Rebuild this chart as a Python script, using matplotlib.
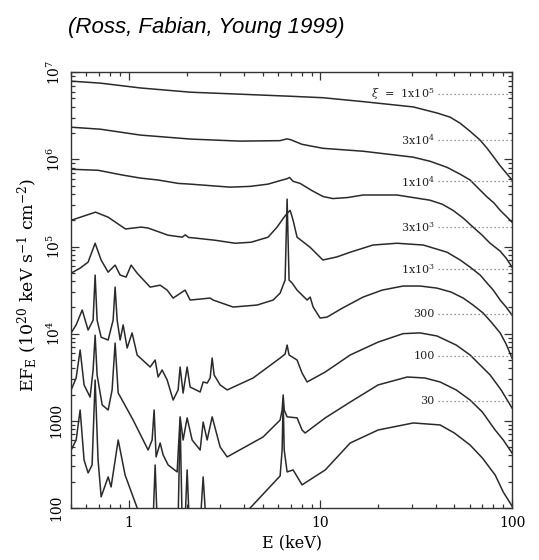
import numpy as np
import matplotlib.pyplot as plt
from matplotlib.ticker import FixedLocator, FixedFormatter, NullFormatter, LogLocator

plt.rcParams['font.family'] = ['DejaVu Serif']
plt.rcParams['mathtext.fontset'] = 'dejavuserif'

# reflection spectra, E in keV, EF_E in 1e20 keV s^-1 cm^-2
E_1e5 = [0.5, 0.71, 1.15, 2.1, 3.8, 7.0, 10.3, 16.7, 30.5, 40.7, 47.5, 53.6, 60.4, 68.2, 74.1, 79.8, 86.7,
         93.1, 100]
F_1e5 = [7.9e6, 7.5e6, 6.6e6, 5.9e6, 5.6e6, 5.3e6, 5.1e6, 4.6e6, 4.0e6, 3.4e6, 3.05e6, 2.6e6, 2.1e6,
         1.66e6, 1.34e6, 1.08e6, 8.45e5, 7.0e5, 5.8e5]

E_3e4 = [0.5, 0.71, 1.15, 2.1, 3.8, 6.15, 6.7, 7.0, 8.0, 10.3, 16.7, 30.5, 37.4, 45.8, 53.6, 60.4, 66.5,
         74.1, 80.6, 86.7, 93.1, 100]
F_3e4 = [2.34e6, 2.22e6, 1.9e6, 1.71e6, 1.62e6, 1.64e6, 1.72e6, 1.68e6, 1.49e6, 1.34e6, 1.24e6, 1.06e6,
         9.5e5, 8.1e5, 6.76e5, 5.8e5, 4.68e5, 3.7e5, 3.15e5, 2.6e5, 2.23e5, 1.9e5]

E_1e4 = [0.5, 0.69, 0.93, 1.15, 1.42, 1.81, 2.09, 3.38, 4.3, 5.33, 6.15, 6.7, 6.9, 7.2, 7.83, 9.0, 10.3,
         11.6, 13.9, 16.7, 25.1, 37.3, 43.2, 49.2, 55.6, 62.6, 69.8, 76.8, 86.7, 93.1, 100]
F_1e4 = [7.7e5, 7.5e5, 6.6e5, 6.1e5, 5.8e5, 5.3e5, 5.2e5, 4.8e5, 4.9e5, 5.2e5, 5.7e5, 6.0e5, 6.2e5, 5.6e5,
         5.3e5, 4.4e5, 3.75e5, 3.55e5, 3.65e5, 3.9e5, 3.9e5, 3.4e5, 3.06e5, 2.6e5, 2.12e5, 1.67e5, 1.35e5,
         1.09e5, 8.85e4, 7.36e4, 5.8e4]

E_3e3 = [0.5, 0.67, 0.78, 0.96, 1.16, 1.26, 1.6, 1.9, 1.97, 2.05, 2.22, 2.82, 3.59, 4.35, 5.33, 5.94, 6.39,
         6.7, 6.95, 7.2, 7.55, 8.83, 10.3, 12.2, 14.3, 18.8, 25.1, 34.4, 45.8, 53.6, 60.4, 68.2, 74.1, 79.8,
         86.7, 93.1, 100]
F_3e3 = [2.0e5, 2.48e5, 2.17e5, 1.59e5, 1.67e5, 1.63e5, 1.35e5, 1.28e5, 1.36e5, 1.27e5, 1.25e5, 1.18e5,
         1.09e5, 1.12e5, 1.28e5, 1.67e5, 2.1e5, 2.4e5, 2.6e5, 2.0e5, 1.28e5, 9.8e4, 7.0e4, 7.6e4, 8.6e4,
         1.04e5, 1.09e5, 1.04e5, 8.6e4, 7.0e4, 5.8e4, 4.7e4, 3.8e4, 3.16e4, 2.43e4, 2.02e4, 1.63e4]

E_1e3 = [0.5, 0.557, 0.613, 0.667, 0.717, 0.78, 0.848, 0.901, 0.968, 1.028, 1.105, 1.292, 1.457, 1.585,
         1.703, 1.967, 2.089, 2.657, 2.754, 3.503, 4.674, 5.664, 6.16, 6.54, 6.70, 6.86, 7.12, 7.55, 8.52,
         8.84, 9.16, 9.96, 10.84, 13.0, 16.7, 21.0, 27.0, 33.1, 40.6, 48.1, 55.6, 62.6, 70.7, 77.8, 86.7,
         93.1, 100]
F_1e3 = [4.95e4, 5.65e4, 6.62e4, 1.09e5, 6.98e4, 5.08e4, 6.12e4, 4.7e4, 4.46e4, 6.12e4, 4.95e4, 3.42e4,
         3.6e4, 3.16e4, 2.56e4, 3.16e4, 2.43e4, 2.56e4, 2.43e4, 2.02e4, 2.13e4, 2.43e4, 2.92e4, 4.12e4,
         3.5e5, 4.12e4, 3.8e4, 3.16e4, 2.43e4, 2.63e4, 2.02e4, 1.51e4, 1.55e4, 1.96e4, 2.63e4, 3.16e4,
         3.52e4, 3.52e4, 3.33e4, 3.0e4, 2.56e4, 2.13e4, 1.72e4, 1.36e4, 1.02e4, 7.6e3, 5.25e3]

E_300 = [0.5, 0.531, 0.571, 0.613, 0.651, 0.667, 0.683, 0.717, 0.78, 0.828, 0.848, 0.869, 0.901, 0.934,
         0.98, 1.04, 1.105, 1.292, 1.372, 1.422, 1.492, 1.585, 1.703, 1.808, 1.852, 1.92, 2.015, 2.089,
         2.356, 2.443, 2.563, 2.657, 2.722, 2.788, 2.996, 3.26, 4.455, 6.16, 6.54, 6.70, 6.86, 7.55, 8.02,
         8.52, 10.6, 14.3, 20.0, 27.0, 33.1, 40.6, 51.1, 60.4, 68.2, 76.9, 87.7, 100]
F_300 = [1.02e4, 1.26e4, 1.87e4, 1.1e4, 1.43e4, 4.7e4, 1.43e4, 9.1e3, 8.45e3, 1.43e4, 3.42e4, 1.43e4,
         8.45e3, 1.26e4, 6.84e3, 1.02e4, 5.69e3, 4.14e3, 4.98e3, 3.18e3, 3.83e3, 2.94e3, 1.73e3, 2.26e3,
         4.14e3, 2.08e3, 4.14e3, 2.44e3, 2.14e3, 2.79e3, 2.71e3, 3.1e3, 5.25e3, 3.35e3, 2.58e3, 2.26e3,
         3.1e3, 5.25e3, 5.83e3, 7.4e3, 5.69e3, 4.98e3, 3.53e3, 2.79e3, 3.63e3, 5.69e3, 8.0e3, 1.0e4,
         1.02e4, 9.4e3, 7.4e3, 5.69e3, 4.36e3, 3.35e3, 2.26e3, 1.4e3]

E_100 = [0.5, 0.531, 0.557, 0.584, 0.628, 0.651, 0.667, 0.683, 0.726, 0.78, 0.818, 0.848, 0.88, 0.923,
         1.053, 1.261, 1.323, 1.355, 1.388, 1.457, 1.51, 1.604, 1.787, 1.852, 1.92, 2.015, 2.14, 2.356,
         2.443, 2.563, 2.722, 2.996, 3.26, 5.02, 6.16, 6.31, 6.39, 6.47, 6.70, 7.55, 8.02, 8.32, 10.6,
         14.3, 20.0, 28.4, 35.0, 42.1, 51.1, 60.4, 70.0, 81.6, 90.0, 100]
F_100 = [2.26e3, 3.1e3, 6.49e3, 2.58e3, 1.87e3, 3.83e3, 9.6e3, 3.35e3, 1.52e3, 1.33e3, 2.26e3, 7.8e3,
         2.08e3, 1.73e3, 1.02e3, 462, 602, 1.33e3, 385, 556, 406, 311, 259, 1.11e3, 602, 1.08e3, 602, 462,
         968, 602, 1.11e3, 500, 385, 652, 1.02e3, 1.33e3, 1.98e3, 1.33e3, 1.11e3, 1.08e3, 784, 724, 1.08e3,
         1.64e3, 2.58e3, 3.18e3, 3.1e3, 2.79e3, 2.26e3, 1.73e3, 1.26e3, 784, 602, 427]

E_30 = [0.5, 0.531, 0.557, 0.584, 0.613, 0.643, 0.667, 0.691, 0.717, 0.78, 0.808, 0.88, 0.956, 1.105,
        1.216, 1.339, 1.372, 1.405, 1.643, 1.808, 1.852, 1.897, 1.967, 2.015, 2.064, 2.356, 2.443, 2.532,
        3.38, 4.30, 6.16, 6.31, 6.39, 6.47, 6.70, 7.2, 8.02, 10.6, 14.3, 20.0, 30.5, 42.1, 50.0, 60.4,
        70.0, 81.6, 90.0, 100]
F_30 = [462, 602, 1.33e3, 355, 252, 311, 2.94e3, 355, 134, 227, 174, 602, 239, 100, 56, 73, 311, 73, 56,
        73, 1.02e3, 73, 73, 273, 73, 64, 227, 64, 56, 100, 233, 462, 1.73e3, 462, 259, 273, 184, 273, 556,
        784, 944, 896, 724, 527, 374, 239, 152, 105]

spectra = [(E_1e5, F_1e5), (E_3e4, F_3e4), (E_1e4, F_1e4), (E_3e3, F_3e3),
           (E_1e3, F_1e3), (E_300, F_300), (E_100, F_100), (E_30, F_30)]

xi_labels = [r'$\xi$  =  1x10$^5$', r'3x10$^4$', r'1x10$^4$', r'3x10$^3$', r'1x10$^3$', '300', '100', '30']
label_F = [5.6e6, 1.66e6, 5.6e5, 1.67e5, 5.5e4, 1.68e4, 5.5e3, 1.69e3]

ytick_vals = [1e2, 1e3, 1e4, 1e5, 1e6, 1e7]
ytick_text = ['100', '1000', r'10$^4$', r'10$^5$', r'10$^6$', r'10$^7$']
xtick_vals = [1, 10, 100]
xtick_text = ['1', '10', '100']

fig = plt.figure(figsize=(5.39, 5.60), dpi=100)
ax = fig.add_axes([0.132, 0.093, 0.818, 0.778])

for E, F in spectra:
    ax.plot(E, F, color='#2a2a2a', lw=1.1)

for lab, y in zip(xi_labels, label_F):
    ax.text(39.5, y, lab, ha='right', va='center', fontsize=8, color='#222222')
    ax.plot([41, 100], [y, y], color='#777777', lw=0.9, ls=(0, (1, 2.2)))

ax.set_xscale('log')
ax.set_yscale('log')
ax.set_xlim(0.5, 100)
ax.set_ylim(100, 1e7)

ax.xaxis.set_major_locator(FixedLocator(xtick_vals))
ax.xaxis.set_major_formatter(FixedFormatter(xtick_text))
ax.yaxis.set_major_locator(FixedLocator(ytick_vals))
ax.yaxis.set_major_formatter(FixedFormatter(ytick_text))
ax.xaxis.set_minor_locator(LogLocator(base=10, subs=np.arange(2, 10)))
ax.yaxis.set_minor_locator(LogLocator(base=10, subs=np.arange(2, 10)))
ax.xaxis.set_minor_formatter(NullFormatter())
ax.yaxis.set_minor_formatter(NullFormatter())

ax.tick_params(which='both', direction='in', top=True, right=True, color='#333333', width=0.9)
ax.tick_params(which='major', length=6, labelsize=10, pad=6)
ax.tick_params(which='minor', length=3)
plt.setp(ax.get_yticklabels(), rotation=90, va='center', ha='right')

for s in ax.spines.values():
    s.set_color('#333333')
    s.set_linewidth(1.0)

fig.text(0.05, 0.491, r'EF$_{\rm E}$ (10$^{20}$ keV s$^{-1}$ cm$^{-2}$)', rotation=90,
         ha='center', va='center', fontsize=12.5)
fig.text(0.542, 0.03, 'E (keV)', ha='center', va='center', fontsize=11.5)
fig.text(0.383, 0.95, '(Ross, Fabian, Young 1999)', ha='center', va='center', fontsize=16,
         style='italic', family='Liberation Sans')

fig.savefig('out.png', dpi=100)
